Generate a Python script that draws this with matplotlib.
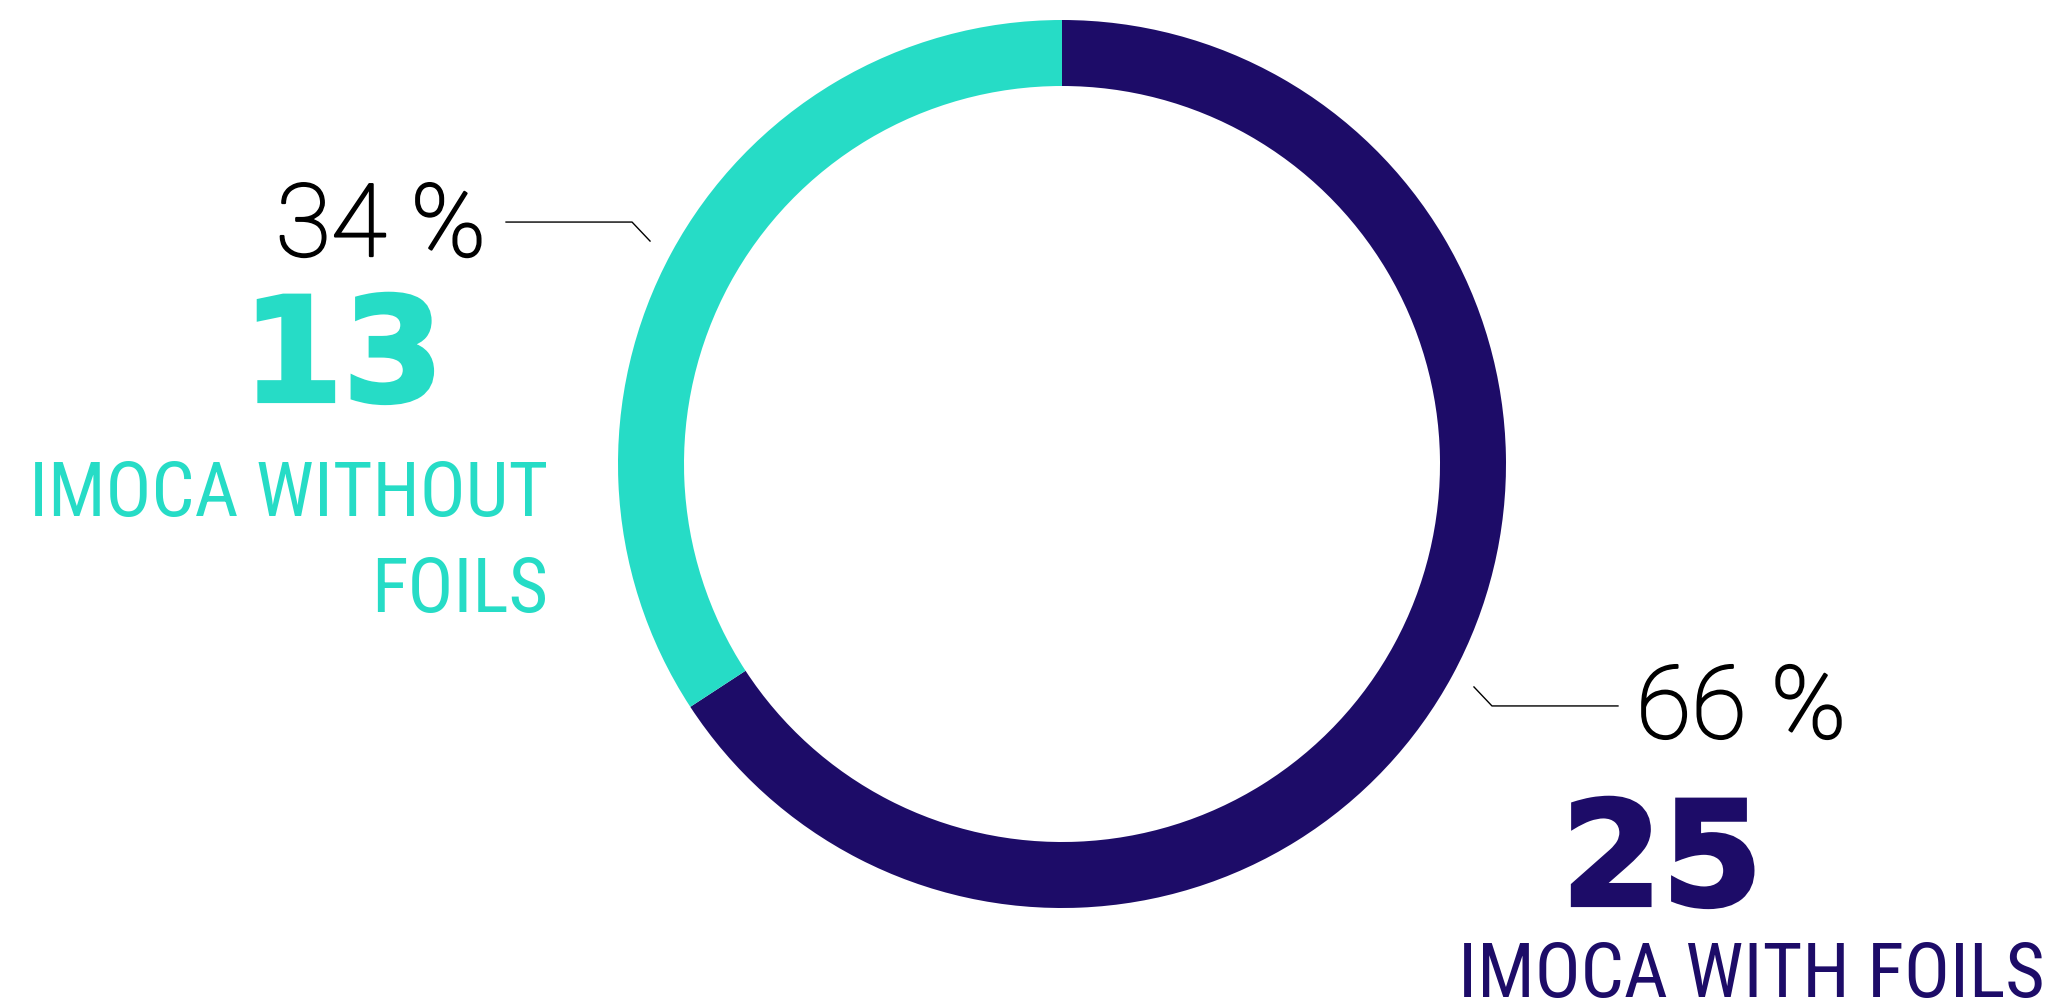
import numpy as np
import matplotlib.pyplot as plt
import matplotlib.patheffects as pe

# data
labels = ['IMOCA WITH FOILS', 'IMOCA WITHOUT\nFOILS']
counts = [25, 13]
colors = ['#1d0c68', '#26dcc6']

W, H = 2065, 1004
cx, cy = 1062, H - 465
R = 444

fig = plt.figure(figsize=(W / 100, H / 100), dpi=100)
ax = fig.add_axes([0, 0, 1, 1])

wedges, _ = ax.pie(counts, colors=colors, startangle=90, counterclock=False,
                   center=(cx, cy), radius=R,
                   wedgeprops=dict(width=66, edgecolor='none', linewidth=0))
ax.set_xlim(0, W)
ax.set_ylim(0, H)
ax.set_aspect('equal')
ax.axis('off')

total = sum(counts)
thin = ['Roboto', 'DejaVu Sans']
narrow = ['Noto Sans Condensed', 'Roboto Condensed', 'Roboto', 'DejaVu Sans']
big = ['DejaVu Sans']


def fit(t, width, max_size):
    # shrink/grow font so the text box is about `width` px wide
    fig.canvas.draw()
    w = t.get_window_extent(fig.canvas.get_renderer()).width
    t.set_fontsize(min(t.get_fontsize() * width / w, max_size))


# leader lines + percentages
for i, w in enumerate(wedges):
    mid = np.deg2rad((w.theta1 + w.theta2) / 2)
    x0 = cx + R * 1.055 * np.cos(mid)
    y0 = cy + R * 1.055 * np.sin(mid)
    side = 1 if np.cos(mid) > 0 else -1
    x1 = x0 + 18 * side
    y1 = y0 + 19 * np.sign(np.sin(mid))
    x2 = x1 + 126 * side
    ax.plot([x0, x1, x2], [y0, y1, y1], color='black', lw=1)
    pct = f'{round(counts[i] / total * 100)} %'
    if side > 0:
        t = ax.text(x2 + 18, y1 - 32, pct, fontsize=75, family=thin, weight='light',
                    ha='left', va='baseline', color='black')
    else:
        t = ax.text(x2 - 20, y1 - 34, pct, fontsize=75, family=thin, weight='light',
                    ha='right', va='baseline', color='black')
    fit(t, 210, 76)
    # thin face is too hairline, thicken it a bit
    t.set_path_effects([pe.withStroke(linewidth=1.6, foreground='black')])

# big numbers
for i, (x, y) in enumerate([(1662, 906), (343, 402)]):
    ax.text(x, H - y, str(counts[i]), fontsize=104, family=big, weight='bold',
            ha='center', va='baseline', color=colors[i],
            path_effects=[pe.withStroke(linewidth=3, foreground=colors[i],
                                        joinstyle='miter')])

# category labels
lab0 = ax.text(1458, H - 997, labels[0], fontsize=56, family=narrow, stretch='condensed',
               ha='left', va='baseline', color=colors[0])
lab1 = ax.text(548, H - 612, labels[1], fontsize=58, family=narrow, stretch='condensed',
               ha='right', va='baseline', multialignment='right', linespacing=1.45,
               color=colors[1])
fit(lab0, 587, 56)
fit(lab1, 518, 58)
lab1.set_linespacing(1.45 * 97 / 106 * 58 / lab1.get_fontsize())

fig.savefig('out.png', dpi=100)
